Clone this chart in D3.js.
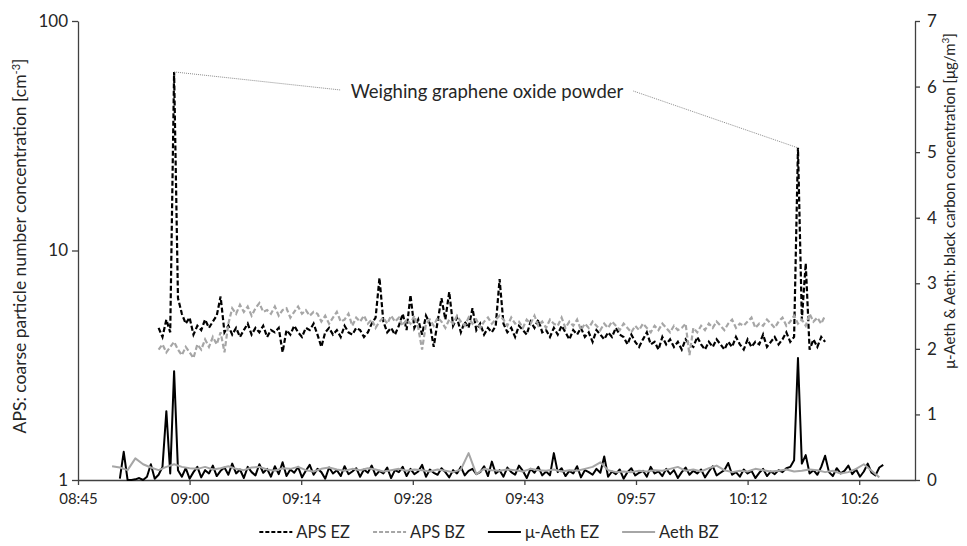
<!DOCTYPE html>
<html>
<head>
<meta charset="utf-8">
<script src="https://cdn.jsdelivr.net/npm/d3@7"></script>
<style>
  body { margin: 0; background: #fff; }
  text { font-family: Lato, "Open Sans", sans-serif; fill: #262626; }
</style>
</head>
<body>
<svg id="chart" width="967" height="546"></svg>
<script>
// sample times are minutes after midnight
const apsStart = 536, apsStep = 0.5;
const apsEZ = [
  4.6, 4.2, 5.0, 4.4, 60, 6.2, 5.3, 4.8, 5.1, 4.3,
  4.7, 4.5, 5.0, 4.6, 4.9, 5.2, 6.3, 4.4, 4.7, 4.3,
  4.6, 4.2, 4.5, 4.8, 4.3, 4.6, 4.4, 4.7, 4.2, 4.5,
  4.4, 4.6, 3.6, 4.5, 4.3, 4.7, 4.4, 4.2, 4.6, 4.5,
  4.8, 4.3, 3.8, 4.4, 4.6, 4.3, 4.5, 4.2, 4.7, 4.4,
  4.3, 4.6, 4.5, 4.2, 4.4, 4.8, 5.1, 7.6, 4.9, 4.4,
  4.6, 4.3, 4.7, 5.3, 4.5, 6.4, 4.6, 5.0, 4.3, 5.2,
  4.8, 3.8, 4.9, 6.2, 5.0, 6.6, 4.7, 5.1, 4.4, 4.9,
  4.6, 5.6, 4.5, 4.8, 4.3, 4.6, 4.4, 4.7, 7.5, 4.8,
  4.4, 4.6, 4.2, 4.7, 4.5, 4.3, 4.9, 4.6, 5.0, 4.4,
  4.5, 4.2, 4.6, 4.3, 4.7, 4.4, 4.1, 4.5, 4.3, 4.6,
  4.2, 4.4, 4.0, 4.5, 4.3, 4.1, 4.4, 4.2, 4.6, 4.3,
  4.2, 3.9, 4.3, 4.0, 3.8, 4.1, 4.4, 3.9, 4.0, 3.7,
  4.2, 3.9, 4.1, 3.8, 4.0, 3.7, 4.1, 3.9, 3.8, 4.2,
  3.9, 3.7, 4.0, 3.8, 4.1, 3.9, 3.7, 4.0, 3.8, 4.2,
  3.9, 3.7, 4.1, 3.8, 4.0, 3.9, 4.3, 3.8, 4.0, 4.2,
  3.9, 4.1, 4.4, 4.0, 4.2, 28, 5.0, 8.8, 3.7, 4.1,
  3.8, 4.2, 4.0
];
const apsBZ = [
  3.7, 3.9, 3.6, 3.8, 4.0, 3.7, 3.5, 3.8, 3.6, 3.4,
  3.9, 3.7, 4.1, 3.8, 4.2, 3.9, 4.4, 3.6, 4.8, 5.6,
  5.3, 5.8, 5.4, 5.7, 5.2, 5.6, 5.9, 5.4, 5.5, 5.3,
  5.7, 5.2, 5.5, 5.6, 5.1, 5.4, 5.7, 5.3, 5.5, 5.2,
  5.4, 5.3, 4.9, 5.2, 4.8, 5.1, 5.4, 4.9, 5.0, 5.3,
  4.7, 5.1, 4.9, 5.2, 4.8, 5.0, 4.6, 4.9, 5.1, 4.8,
  5.2, 4.9, 5.1, 4.7, 5.0, 4.8, 5.2, 4.6, 3.7, 4.8,
  5.0, 4.7, 5.1, 4.9, 4.6, 5.0, 4.8, 5.2, 4.9, 4.7,
  5.1, 4.8, 5.0, 4.6, 4.9, 5.1, 4.8, 5.0, 5.2, 5.0,
  4.7, 5.1, 4.8, 4.9, 4.6, 5.0, 4.8, 5.2, 4.7, 4.9,
  4.6, 5.0, 4.8, 4.7, 5.1, 4.6, 4.9, 4.7, 5.0, 4.5,
  4.8, 4.6, 4.9, 4.7, 4.5, 4.8, 4.6, 4.9, 4.7, 4.5,
  4.8, 4.6, 4.4, 4.7, 4.5, 4.8, 4.6, 4.4, 4.7, 4.5,
  4.8, 4.6, 4.4, 4.7, 4.5, 4.6, 4.8, 3.5, 4.6, 4.4,
  4.7, 4.5, 4.8, 4.6, 4.9, 4.7, 4.5, 4.8, 5.0, 4.6,
  4.8, 4.7, 4.9, 5.1, 4.6, 4.8, 4.7, 5.0, 4.8, 4.6,
  4.9, 5.1, 4.7, 4.9, 5.2, 4.8, 5.0, 4.7, 5.3, 4.9,
  5.1, 4.8, 5.2
];
const aethEZStart = 531, aethEZStep = 0.5;
const aethEZ = [
  0.02, 0.43, 0.0, 0.0, 0.01, 0.03, 0.0, 0.05, 0.24, 0.02,
  0.08, 0.2, 1.05, 0.1, 1.66, 0.15, 0.05, 0.18, 0.02, 0.12,
  0.2, 0.04, 0.15, 0.1, 0.22, 0.06, 0.14, 0.19, 0.08, 0.25,
  0.1, 0.16, 0.03, 0.2, 0.12, 0.07, 0.24, 0.11, 0.17, 0.05,
  0.21, 0.09, 0.27, 0.06, 0.16, 0.11, 0.2, 0.04, 0.14, 0.23,
  0.08, 0.17, 0.12, 0.02, 0.19, 0.1, 0.15, 0.06, 0.21, 0.09,
  0.13, 0.18, 0.05, 0.16, 0.11, 0.22, 0.07, 0.14, 0.1, 0.19,
  0.03, 0.15, 0.12, 0.2, 0.06, 0.17, 0.09, 0.13, 0.23, 0.05,
  0.16, 0.11, 0.08, 0.18, 0.12, 0.04, 0.15, 0.1, 0.2, 0.07,
  0.14, 0.17, 0.09, 0.12, 0.21, 0.06, 0.28, 0.1, 0.15, 0.05,
  0.19, 0.12, 0.08, 0.22, 0.14, 0.03, 0.17, 0.11, 0.2, 0.07,
  0.13, 0.07, 0.41, 0.12, 0.18, 0.06, 0.14, 0.1, 0.21, 0.04,
  0.15, 0.12, 0.08, 0.17, 0.11, 0.36, 0.05, 0.13, 0.09, 0.16,
  0.02, 0.12, 0.18, 0.07, 0.11, 0.14, 0.05, 0.2, 0.1, 0.13,
  0.06, 0.17, 0.09, 0.15, 0.03, 0.12, 0.19, 0.08, 0.14, 0.1,
  0.16, 0.04, 0.13, 0.21, 0.07, 0.11, 0.15, 0.26, 0.08, 0.12,
  0.05, 0.16, 0.1, 0.14, 0.03, 0.11, 0.17, 0.06, 0.13, 0.09,
  0.15, 0.12, 0.18, 0.2, 0.3, 1.86, 0.25, 0.38, 0.1, 0.15,
  0.08, 0.2, 0.37, 0.12, 0.06, 0.18, 0.1, 0.14, 0.22, 0.09,
  0.16, 0.05, 0.13, 0.25, 0.11, 0.07, 0.19, 0.23
];
const aethBZStart = 530, aethBZStep = 1;
const aethBZ = [
  0.21, 0.19, 0.15, 0.33, 0.24, 0.19, 0.15, 0.2, 0.24, 0.2,
  0.18, 0.17, 0.2, 0.16, 0.18, 0.21, 0.17, 0.15, 0.19, 0.2,
  0.16, 0.14, 0.18, 0.17, 0.2, 0.15, 0.13, 0.17, 0.19, 0.16,
  0.14, 0.17, 0.15, 0.18, 0.16, 0.13, 0.15, 0.17, 0.14, 0.16,
  0.15, 0.13, 0.16, 0.14, 0.12, 0.16, 0.41, 0.09, 0.17, 0.15,
  0.14, 0.16, 0.15, 0.13, 0.17, 0.15, 0.14, 0.16, 0.13, 0.15,
  0.14, 0.17, 0.2, 0.27, 0.15, 0.12, 0.13, 0.12, 0.14, 0.13,
  0.15, 0.14, 0.17, 0.2, 0.14, 0.16, 0.13, 0.18, 0.22, 0.15,
  0.12, 0.14, 0.13, 0.17, 0.15, 0.13, 0.14, 0.16, 0.13, 0.14,
  0.16, 0.15, 0.12, 0.14, 0.1, 0.12, 0.17, 0.24, 0.14, 0.04
];

const xTicks = [525.6, 540, 554.4, 568.8, 583.2, 597.6, 612, 626.4];
const xTickLabels = ["08:45", "09:00", "09:14", "09:28", "09:43", "09:57", "10:12", "10:26"];
const leftTicks = [1, 10, 100];
const rightTicks = [0, 1, 2, 3, 4, 5, 6, 7];
const seriesNames = ["APS EZ", "APS BZ", "\u03bc-Aeth EZ", "Aeth BZ"];
const annotationText = "Weighing graphene oxide powder";

let svg = d3.select("#chart");
let margin = { left: 78, top: 21, right: 52, bottom: 66 };
let width = 967 - margin.left - margin.right,
    height = 546 - margin.top - margin.bottom;
let g = svg.append("g").attr("transform", `translate(${margin.left}, ${margin.top})`);

let xScale = d3.scaleLinear().domain([525.6, 633.6]).range([0, width]);
let yLeft = d3.scaleLog().domain([1, 100]).range([height, 0]);
let yRight = d3.scaleLinear().domain([0, 7]).range([height, 0]);

const toPoints = (vals, start, step) => vals.map((v, i) => ({ t: start + step * i, v: v }));
let apsEZPts = toPoints(apsEZ, apsStart, apsStep);
let apsBZPts = toPoints(apsBZ, apsStart, apsStep);
let aethEZPts = toPoints(aethEZ, aethEZStart, aethEZStep);
let aethBZPts = toPoints(aethBZ, aethBZStart, aethBZStep);

const axisColor = "#404040";

// axes
let xAxis = g.append("g")
    .attr("transform", `translate(0, ${height})`)
    .call(d3.axisBottom(xScale).tickValues(xTicks).tickFormat((d, i) => xTickLabels[i])
        .tickSize(5).tickSizeOuter(0).tickPadding(8));
xAxis.selectAll("text").style("font-size", "15px");

let leftAxis = g.append("g")
    .call(d3.axisLeft(yLeft).tickValues(leftTicks).tickFormat(d3.format("d"))
        .tickSize(6).tickSizeOuter(0).tickPadding(4));
leftAxis.selectAll("text").style("font-size", "17px");

let rightAxis = g.append("g")
    .attr("transform", `translate(${width}, 0)`)
    .call(d3.axisRight(yRight).tickValues(rightTicks).tickFormat(d3.format("d"))
        .tickSize(5).tickSizeOuter(0).tickPadding(7));
rightAxis.selectAll("text").style("font-size", "17px");

g.selectAll(".domain, .tick line").attr("stroke", axisColor).attr("stroke-width", 1.3);

// series
let apsLine = d3.line().x(d => xScale(d.t)).y(d => yLeft(d.v));
let aethLine = d3.line().x(d => xScale(d.t)).y(d => yRight(d.v));

g.append("path").datum(apsEZPts)
    .attr("fill", "none").attr("stroke", "#000").attr("stroke-width", 2.2)
    .attr("stroke-dasharray", "5,2.5").attr("d", apsLine);
g.append("path").datum(apsBZPts)
    .attr("fill", "none").attr("stroke", "#a6a6a6").attr("stroke-width", 2.2)
    .attr("stroke-dasharray", "5,2.5").attr("d", apsLine);
g.append("path").datum(aethEZPts)
    .attr("fill", "none").attr("stroke", "#000").attr("stroke-width", 2)
    .attr("stroke-linejoin", "round").attr("d", aethLine);
g.append("path").datum(aethBZPts)
    .attr("fill", "none").attr("stroke", "#a6a6a6").attr("stroke-width", 2)
    .attr("stroke-linejoin", "round").attr("d", aethLine);

// annotation pointing at the two APS EZ peaks
let peak1 = apsEZPts[d3.maxIndex(apsEZPts.slice(0, 60), d => d.v)];
let peak2 = apsEZPts[120 + d3.maxIndex(apsEZPts.slice(120), d => d.v)];
let ann = g.append("text")
    .attr("x", 487 - margin.left).attr("y", 92 - margin.top)
    .attr("text-anchor", "middle").attr("dy", "0.35em")
    .style("font-size", "18.5px")
    .text(annotationText);
let annW = ann.node().getComputedTextLength();
let annL = 487 - margin.left - annW / 2 - 10, annR = 487 - margin.left + annW / 2 + 10;
g.append("line")
    .attr("x1", xScale(peak1.t)).attr("y1", yLeft(peak1.v))
    .attr("x2", annL).attr("y2", 90 - margin.top)
    .attr("stroke", "#8c8c8c").attr("stroke-width", 1).attr("stroke-dasharray", "1,1");
g.append("line")
    .attr("x1", annR).attr("y1", 91 - margin.top)
    .attr("x2", xScale(peak2.t)).attr("y2", yLeft(peak2.v))
    .attr("stroke", "#8c8c8c").attr("stroke-width", 1).attr("stroke-dasharray", "1,1");

// axis titles
let leftTitle = svg.append("text")
    .attr("transform", "translate(26, 246) rotate(-90)")
    .attr("text-anchor", "middle")
    .style("font-size", "17.5px");
leftTitle.append("tspan").text("APS: coarse particle number concentration [cm");
leftTitle.append("tspan").attr("baseline-shift", "super").style("font-size", "11px").text("-3");
leftTitle.append("tspan").text("]");

let rightTitle = svg.append("text")
    .attr("transform", "translate(955, 201) rotate(-90)")
    .attr("text-anchor", "middle")
    .style("font-size", "15px");
rightTitle.append("tspan").text("\u03bc-Aeth & Aeth: black carbon concentration [\u03bcg/m");
rightTitle.append("tspan").attr("baseline-shift", "super").style("font-size", "10px").text("3");
rightTitle.append("tspan").text("]");

// legend
let legendStyles = [
    { color: "#000", dash: "4,2" },
    { color: "#a6a6a6", dash: "4,2" },
    { color: "#000", dash: null },
    { color: "#a6a6a6", dash: null }
];
let legend = svg.append("g");
let lx = 0;
seriesNames.forEach((name, i) => {
    let item = legend.append("g").attr("transform", `translate(${lx}, 0)`);
    item.append("line")
        .attr("x1", 0).attr("x2", 33).attr("y1", 0).attr("y2", 0)
        .attr("stroke", legendStyles[i].color).attr("stroke-width", 2)
        .attr("stroke-dasharray", legendStyles[i].dash);
    let t = item.append("text")
        .attr("x", 37).attr("dy", "0.35em")
        .style("font-size", "16.5px")
        .text(name);
    lx += 37 + t.node().getComputedTextLength() + 23;
});
lx -= 23;
legend.attr("transform", `translate(${489 - lx / 2}, 532)`);
</script>
</body>
</html>
